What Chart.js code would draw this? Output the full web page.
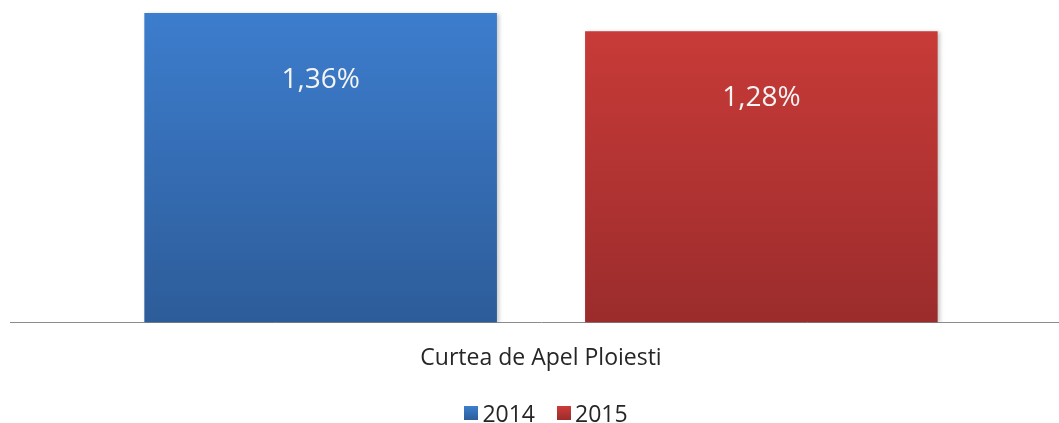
<!DOCTYPE html>
<html>
<head>
<meta charset="utf-8">
<script src="https://cdn.jsdelivr.net/npm/chart.js@4"></script>
<style>
  html, body { margin: 0; padding: 0; background: #fff; overflow: hidden; width: 1059px; height: 423px; }
  #wrap { width: 1072px; height: 423px; position: absolute; left: 0; top: 0; }
  #legend {
    position: absolute; left: 0; width: 1092px; top: 398px; height: 30px;
    display: flex; justify-content: center; align-items: center;
    font-family: "Open Sans", sans-serif; font-size: 23px; color: #262626;
  }
  .lg-item { display: flex; align-items: center; margin: 0 11px; }
  .lg-box { width: 14px; height: 14px; margin-right: 4px; }
</style>
</head>
<body>
<div id="wrap"><canvas id="chart"></canvas></div>
<div id="legend"></div>
<script>
// ===== Data =====
const categories = ['Curtea de Apel Ploiesti'];
const seriesNames = ['2014', '2015'];
const values2014 = [1.36];
const values2015 = [1.28];

// top / bottom colours of each bar gradient
const blueTop = '#3D7ECF', blueBottom = '#2D5C99';
const redTop = '#CC3C39', redBottom = '#9B2C2C';

function gradient(top, bottom) {
  return (ctx) => {
    const { chart } = ctx;
    const area = chart.chartArea;
    if (!area) return top;
    const g = chart.ctx.createLinearGradient(0, area.top, 0, area.bottom);
    g.addColorStop(0, top);
    g.addColorStop(1, bottom);
    return g;
  };
}

// soft shadow under the bars + value labels inside them (e.g. "1,36%")
const barDecor = {
  id: 'barDecor',
  beforeDatasetsDraw(chart) {
    const ctx = chart.ctx;
    ctx.save();
    ctx.shadowColor = 'rgba(0,0,0,0.22)';
    ctx.shadowBlur = 4;
    ctx.shadowOffsetX = 2;
    ctx.shadowOffsetY = 1;
  },
  afterDatasetsDraw(chart) {
    const ctx = chart.ctx;
    ctx.restore();
    ctx.save();
    ctx.fillStyle = '#F4F4F4';
    ctx.font = '28px "Open Sans", sans-serif';
    ctx.textAlign = 'center';
    ctx.textBaseline = 'middle';
    chart.data.datasets.forEach((ds, i) => {
      chart.getDatasetMeta(i).data.forEach((bar, j) => {
        const txt = ds.data[j].toFixed(2).replace('.', ',') + '%';
        ctx.fillText(txt, bar.x, bar.y + 67);
      });
    });
    ctx.restore();
  }
};

const chart = new Chart(document.getElementById('chart'), {
  type: 'bar',
  data: {
    labels: categories,
    datasets: [
      { label: seriesNames[0], data: values2014, backgroundColor: gradient(blueTop, blueBottom) },
      { label: seriesNames[1], data: values2015, backgroundColor: gradient(redTop, redBottom) }
    ]
  },
  options: {
    responsive: true,
    maintainAspectRatio: false,
    animation: false,
    layout: { padding: { top: 4, left: 10, right: 0, bottom: 37 } },
    categoryPercentage: 0.83,
    barPercentage: 0.8,
    scales: {
      x: {
        grid: { display: false },
        border: { display: true, color: '#8C8C8C', width: 1 },
        ticks: {
          color: '#262626',
          font: { family: '"Open Sans", sans-serif', size: 23 },
          padding: 14
        }
      },
      y: {
        display: false,
        min: 0,
        max: 1.4
      }
    },
    plugins: {
      legend: { display: false },
      tooltip: { enabled: false }
    }
  },
  plugins: [barDecor]
});

// ===== Custom legend =====
const legendTop = [blueTop, redTop];
const legendBottom = [blueBottom, redBottom];
document.getElementById('legend').innerHTML = chart.data.datasets.map((ds, i) => `
  <div class="lg-item">
    <span class="lg-box" style="background:linear-gradient(${legendTop[i]}, ${legendBottom[i]});"></span>
    <span>${ds.label}</span>
  </div>`).join('');
</script>
</body>
</html>
